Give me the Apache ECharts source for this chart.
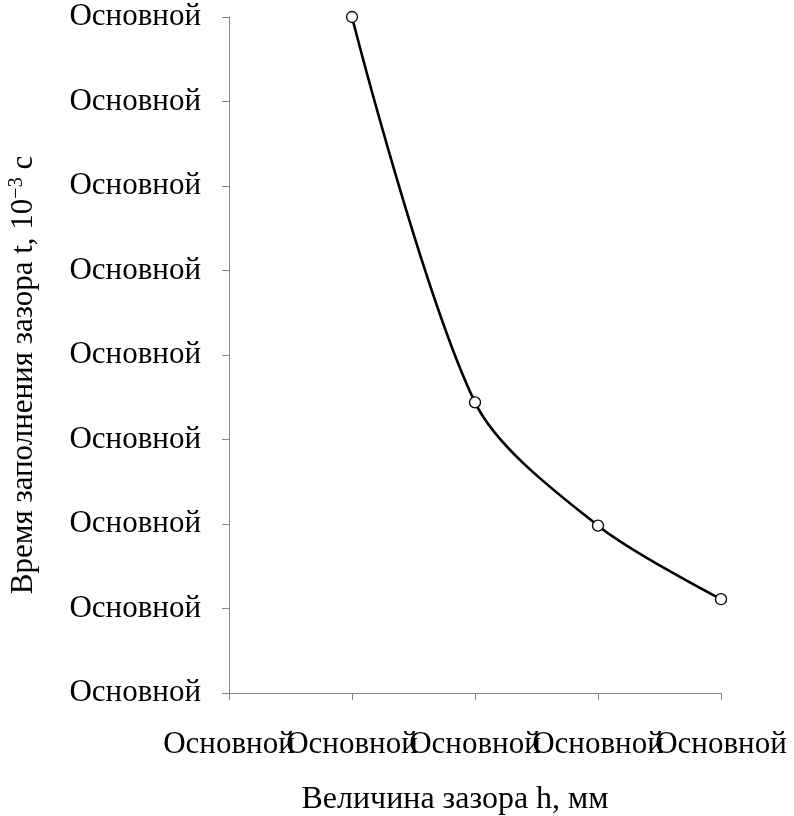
<!DOCTYPE html>
<html>
<head>
<meta charset="utf-8">
<script src="https://cdn.jsdelivr.net/npm/echarts@6/dist/echarts.min.js"></script>
<style>
  html, body { margin: 0; padding: 0; background: #fff; }
  #chart { width: 794px; height: 816px; }
</style>
</head>
<body>
<div id="chart"></div>
<script>
// Gap size h categories and fill time t
const xCategories = ['0', '1', '2', '3', '4'];
const gapPositions = ['1', '2', '3', '4'];
const fillTimes = [8, 3.44, 1.98, 1.11];
const tickLabel = 'Основной';
const xTitle = 'Величина зазора h, мм';
const yTitleMain = 'Время заполнения зазора t, 10';
const yTitleExp = '−3';
const yTitleUnit = ' с';

const FONT = '"Liberation Serif", "Times New Roman", serif';
const FS = 31;
const axisGray = '#868686';

const chart = echarts.init(document.getElementById('chart'), null, { renderer: 'canvas' });

chart.setOption({
  animation: false,
  backgroundColor: '#ffffff',
  grid: { left: 229, right: 73, top: 17, bottom: 123, containLabel: false },
  xAxis: {
    type: 'category',
    data: xCategories,
    boundaryGap: false,
    axisLine: { show: true, onZero: false, lineStyle: { color: axisGray, width: 1 } },
    axisTick: { show: true, length: 7, interval: 0, alignWithLabel: true, lineStyle: { color: axisGray } },
    splitLine: { show: false },
    axisLabel: {
      formatter: () => tickLabel,
      interval: 0,
      margin: 36,
      color: '#000', fontFamily: FONT, fontSize: FS,
      hideOverlap: false
    }
  },
  yAxis: {
    type: 'value',
    min: 0, max: 8, interval: 1,
    axisLine: { show: true, onZero: false, lineStyle: { color: axisGray, width: 1 } },
    axisTick: { show: true, length: 7, lineStyle: { color: axisGray } },
    splitLine: { show: false },
    axisLabel: {
      formatter: () => tickLabel,
      margin: 28,
      color: '#000', fontFamily: FONT, fontSize: FS,
      showMinLabel: true, showMaxLabel: true
    }
  },
  series: [{
    type: 'line',
    data: gapPositions.map((x, i) => [x, fillTimes[i]]),
    smooth: 0.3,
    symbol: 'circle',
    symbolSize: 11,
    lineStyle: { color: '#000', width: 2.6 },
    itemStyle: { color: '#fff', borderColor: '#000', borderWidth: 1.3 },
    z: 3
  }],
  graphic: [
    {
      type: 'text',
      x: 455, y: 800,
      style: {
        text: xTitle,
        fontFamily: FONT, fontSize: 32, fill: '#000',
        align: 'center', verticalAlign: 'middle'
      }
    },
    {
      type: 'text',
      x: 24, y: 375,
      rotation: Math.PI / 2,
      style: {
        rich: {
          m: { fontFamily: FONT, fontSize: FS, fill: '#000' },
          s: { fontFamily: FONT, fontSize: 20, fill: '#000', padding: [0, 0, 14, 0] }
        },
        text: '{m|' + yTitleMain + '}{s|' + yTitleExp + '}{m|' + yTitleUnit + '}',
        align: 'center', verticalAlign: 'middle'
      }
    }
  ]
});
</script>
</body>
</html>
